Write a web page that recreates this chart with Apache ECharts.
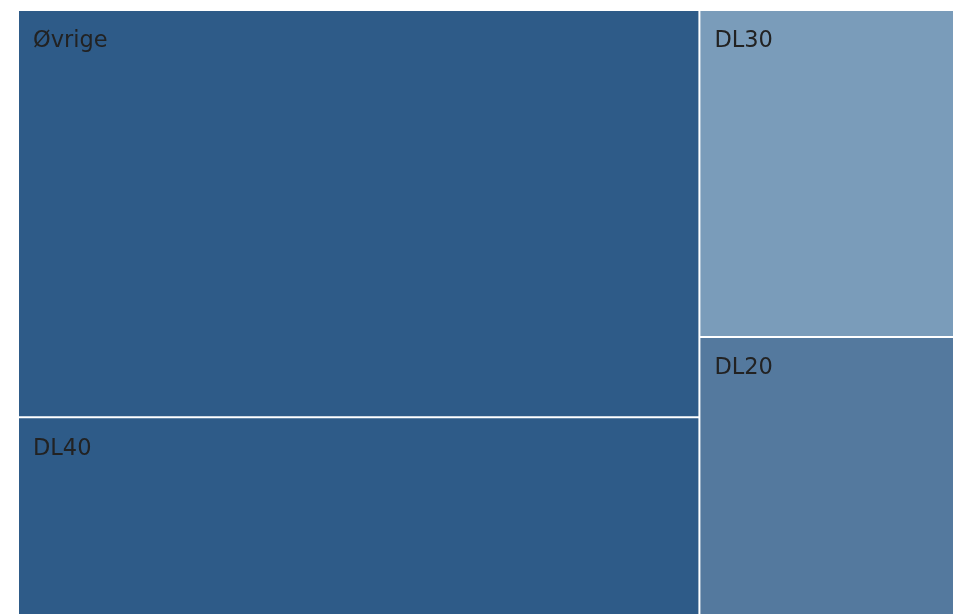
<!DOCTYPE html>
<html>
<head>
<meta charset="utf-8">
<script src="https://cdn.jsdelivr.net/npm/echarts@6/dist/echarts.min.js"></script>
<style>
  html, body { margin: 0; padding: 0; background: #fff; }
  #chart { width: 953px; height: 614px; }
</style>
</head>
<body>
<div id="chart"></div>
<script>
// share per group
const names = ['Øvrige', 'DL40', 'DL30', 'DL20'];
const values = [49.0, 23.8, 14.7, 12.5];

const tileColors = ['#2e5b88', '#2e5b88', '#7a9cba', '#54799e'];

const chart = echarts.init(document.getElementById('chart'));

chart.setOption({
  animation: false,
  series: [
    {
      type: 'treemap',
      left: 17,
      top: 9,
      right: -2,
      bottom: -2,
      roam: false,
      nodeClick: false,
      squareRatio: 2,
      breadcrumb: { show: false },
      label: {
        show: true,
        position: [14, 19],
        padding: 0,
        formatter: '{b}',
        fontFamily: 'DejaVu Sans',
        fontSize: 22.5,
        color: '#222'
      },
      itemStyle: {
        borderColor: '#fff',
        borderWidth: 1,
        gapWidth: 0
      },
      emphasis: { disabled: true },
      data: names.map((n, i) => ({
        name: n,
        value: values[i],
        itemStyle: { color: tileColors[i] }
      }))
    }
  ]
});
</script>
</body>
</html>
